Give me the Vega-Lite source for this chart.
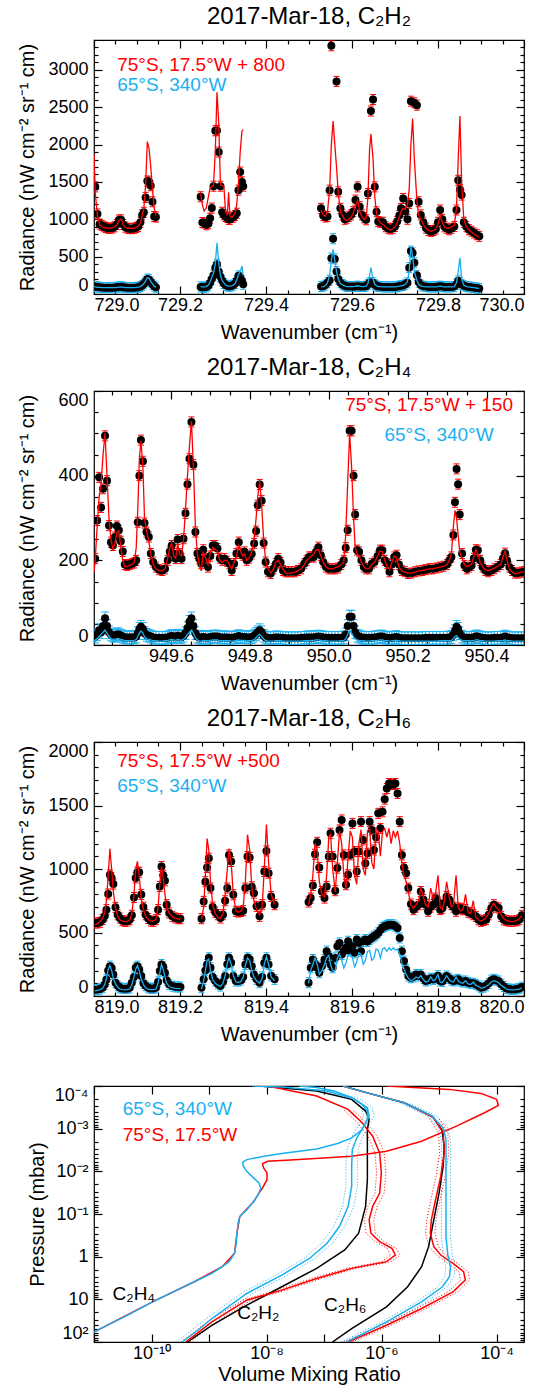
{
"$schema":"https://vega.github.io/schema/vega-lite/v6.json",
"background":"white",
"padding":{"left":16,"top":4,"right":5,"bottom":0},
"spacing":12,
"datasets":{
"p1":[
{"x":729.000,"g":1,"rm":1870,"bm":100},
{"x":729.003,"g":1,"r":1434,"rm":1350,"b":100,"bm":95},
{"x":729.008,"g":1,"r":1072,"rm":1050,"b":95,"bm":90},
{"x":729.013,"g":1,"r":935,"rm":930,"b":90,"bm":88},
{"x":729.018,"g":1,"r":918,"rm":900,"b":88,"bm":85},
{"x":729.023,"g":1,"r":900,"rm":890,"b":85,"bm":85},
{"x":729.028,"g":1,"r":890,"rm":885,"b":85,"bm":85},
{"x":729.033,"g":1,"r":880,"rm":885,"b":85,"bm":85},
{"x":729.038,"g":1,"r":880,"rm":880,"b":85,"bm":85},
{"x":729.043,"g":1,"r":885,"rm":890,"b":85,"bm":85},
{"x":729.048,"g":1,"r":900,"rm":900,"b":88,"bm":85},
{"x":729.053,"g":1,"r":930,"rm":920,"b":90,"bm":88},
{"x":729.058,"g":1,"r":990,"rm":980,"b":95,"bm":92},
{"x":729.063,"g":1,"r":993,"rm":1000,"b":98,"bm":95},
{"x":729.068,"g":1,"r":930,"rm":930,"b":92,"bm":90},
{"x":729.073,"g":1,"r":895,"rm":890,"b":88,"bm":85},
{"x":729.078,"g":1,"r":880,"rm":880,"b":85,"bm":85},
{"x":729.083,"g":1,"r":875,"rm":880,"b":85,"bm":85},
{"x":729.088,"g":1,"r":875,"rm":880,"b":85,"bm":85},
{"x":729.093,"g":1,"r":880,"rm":880,"b":85,"bm":85},
{"x":729.098,"g":1,"r":890,"rm":890,"b":88,"bm":88},
{"x":729.103,"g":1,"r":905,"rm":910,"b":90,"bm":92},
{"x":729.108,"g":1,"r":960,"rm":950,"b":100,"bm":100},
{"x":729.112,"g":1,"r":1059,"rm":1050,"b":115,"bm":115},
{"x":729.116,"g":1,"r":1094,"rm":1150,"b":135,"bm":140},
{"x":729.120,"g":1,"r":1293,"rm":1450,"b":165,"bm":175},
{"x":729.124,"g":1,"r":1513,"rm":2040,"b":200,"bm":220},
{"x":729.128,"g":1,"r":1500,"rm":1950,"b":190,"bm":210},
{"x":729.132,"g":1,"r":1450,"rm":1700,"b":160,"bm":170},
{"x":729.136,"g":1,"r":1235,"rm":1400,"b":130,"bm":135},
{"x":729.140,"g":1,"r":1037,"rm":1150,"b":105,"bm":105},
{"x":729.144,"g":1,"r":1030,"rm":1050,"b":90,"bm":92},
{"x":729.248,"g":2,"r":1302,"rm":1346,"b":95,"bm":100},
{"x":729.252,"g":2,"r":957,"rm":1200,"b":90,"bm":95},
{"x":729.256,"g":2,"r":950,"rm":1110,"b":90,"bm":95},
{"x":729.261,"g":2,"r":927,"rm":1150,"b":95,"bm":100},
{"x":729.266,"g":2,"r":940,"rm":1300,"b":110,"bm":120},
{"x":729.270,"g":2,"r":1015,"rm":1420,"b":150,"bm":160},
{"x":729.274,"g":2,"r":1150,"rm":1440,"b":200,"bm":220},
{"x":729.278,"g":2,"r":1443,"rm":1460,"b":250,"bm":280},
{"x":729.282,"g":2,"r":2184,"rm":1900,"b":353,"bm":400},
{"x":729.286,"g":2,"r":2190,"rm":2700,"b":397,"bm":684},
{"x":729.290,"g":2,"r":1900,"rm":2300,"b":300,"bm":420},
{"x":729.294,"g":2,"r":1443,"rm":1460,"b":230,"bm":250},
{"x":729.298,"g":2,"r":1094,"rm":1450,"b":180,"bm":180},
{"x":729.302,"g":2,"r":1059,"rm":1440,"b":140,"bm":150},
{"x":729.306,"g":2,"r":1037,"rm":1100,"b":120,"bm":120},
{"x":729.310,"g":2,"r":1024,"rm":1050,"b":110,"bm":110},
{"x":729.313,"g":2,"r":1000,"rm":1360,"b":105,"bm":105},
{"x":729.316,"g":2,"r":1000,"rm":1050,"b":105,"bm":105},
{"x":729.320,"g":2,"r":1024,"rm":1020,"b":110,"bm":110},
{"x":729.324,"g":2,"r":1030,"rm":1050,"b":120,"bm":120},
{"x":729.328,"g":2,"r":1050,"rm":1080,"b":140,"bm":140},
{"x":729.332,"g":2,"r":1081,"rm":1200,"b":180,"bm":190},
{"x":729.336,"g":2,"r":1390,"rm":1500,"b":243,"bm":260},
{"x":729.340,"g":2,"r":1632,"rm":1900,"b":220,"bm":300},
{"x":729.344,"g":2,"r":1500,"rm":2180,"b":180,"bm":375},
{"x":729.347,"g":2,"r":1443,"rm":2200,"b":130,"bm":250},
{"x":729.528,"g":3,"r":1147,"rm":1120,"b":100,"bm":95},
{"x":729.533,"g":3,"r":1050,"rm":1060,"b":105,"bm":100},
{"x":729.538,"g":3,"r":1030,"rm":1040,"b":120,"bm":110},
{"x":729.543,"g":3,"r":1037,"rm":1100,"b":150,"bm":150},
{"x":729.548,"g":3,"r":1390,"rm":1400,"b":185,"bm":250},
{"x":729.552,"g":3,"r":3322,"rm":2000,"b":480,"bm":450},
{"x":729.556,"g":3,"rm":2316,"b":740,"bm":596},
{"x":729.560,"g":3,"rm":2000,"b":470,"bm":450},
{"x":729.564,"g":3,"r":2846,"rm":1700,"b":300,"bm":300},
{"x":729.568,"g":3,"r":1368,"rm":1350,"b":200,"bm":200},
{"x":729.573,"g":3,"r":1147,"rm":1100,"b":150,"bm":140},
{"x":729.578,"g":3,"r":1060,"rm":1050,"b":125,"bm":120},
{"x":729.583,"g":3,"r":1000,"rm":1000,"b":110,"bm":110},
{"x":729.588,"g":3,"r":1015,"rm":980,"b":100,"bm":100},
{"x":729.593,"g":3,"r":1040,"rm":1000,"b":100,"bm":100},
{"x":729.598,"g":3,"r":1059,"rm":1030,"b":100,"bm":100},
{"x":729.603,"g":3,"r":1103,"rm":1080,"b":100,"bm":100},
{"x":729.608,"g":3,"r":1257,"rm":1180,"b":100,"bm":105},
{"x":729.613,"g":3,"r":1434,"rm":1250,"b":105,"bm":110},
{"x":729.618,"g":3,"r":1169,"rm":1100,"b":100,"bm":105},
{"x":729.623,"g":3,"r":1060,"rm":1040,"b":100,"bm":100},
{"x":729.628,"g":3,"r":1020,"rm":1000,"b":100,"bm":100},
{"x":729.633,"g":3,"r":993,"rm":1020,"b":105,"bm":105},
{"x":729.637,"g":3,"r":1346,"rm":1300,"b":130,"bm":140},
{"x":729.641,"g":3,"rm":1950,"b":150,"bm":250},
{"x":729.644,"g":3,"r":2449,"rm":2140,"b":154,"bm":353},
{"x":729.649,"g":3,"r":2603,"rm":1800,"b":150,"bm":200},
{"x":729.653,"g":3,"r":1434,"rm":1300,"b":125,"bm":130},
{"x":729.657,"g":3,"r":1100,"rm":1080,"b":110,"bm":110},
{"x":729.661,"g":3,"r":971,"rm":1000,"b":100,"bm":100},
{"x":729.666,"g":3,"r":960,"rm":950,"b":100,"bm":100},
{"x":729.672,"g":3,"r":960,"rm":930,"b":95,"bm":95},
{"x":729.678,"g":3,"r":900,"rm":900,"b":95,"bm":95},
{"x":729.684,"g":3,"r":880,"rm":870,"b":95,"bm":95},
{"x":729.689,"g":3,"r":870,"rm":860,"b":95,"bm":95},
{"x":729.695,"g":3,"r":880,"rm":870,"b":95,"bm":95},
{"x":729.700,"g":3,"r":904,"rm":900,"b":95,"bm":95},
{"x":729.705,"g":3,"r":971,"rm":950,"b":100,"bm":100},
{"x":729.710,"g":3,"r":1050,"rm":1030,"b":105,"bm":105},
{"x":729.714,"g":3,"r":1147,"rm":1100,"b":110,"bm":110},
{"x":729.719,"g":3,"r":1279,"rm":1150,"b":115,"bm":115},
{"x":729.724,"g":3,"r":1103,"rm":1130,"b":130,"bm":130},
{"x":729.729,"g":3,"r":1000,"rm":1200,"b":150,"bm":170},
{"x":729.733,"g":3,"r":1213,"rm":1400,"b":353,"bm":300},
{"x":729.737,"g":3,"r":2581,"rm":2000,"b":574,"bm":640},
{"x":729.741,"g":3,"rm":2347,"b":550,"bm":500},
{"x":729.745,"g":3,"r":2559,"rm":1800,"b":419,"bm":300},
{"x":729.751,"g":3,"r":2528,"rm":1250,"b":250,"bm":180},
{"x":729.755,"g":3,"r":1235,"rm":1050,"b":160,"bm":130},
{"x":729.760,"g":3,"r":1059,"rm":1000,"b":120,"bm":110},
{"x":729.766,"g":3,"r":960,"rm":930,"b":105,"bm":100},
{"x":729.772,"g":3,"r":882,"rm":880,"b":100,"bm":95},
{"x":729.778,"g":3,"r":850,"rm":850,"b":95,"bm":95},
{"x":729.784,"g":3,"r":838,"rm":840,"b":95,"bm":95},
{"x":729.790,"g":3,"r":850,"rm":850,"b":95,"bm":95},
{"x":729.795,"g":3,"r":870,"rm":870,"b":95,"bm":95},
{"x":729.800,"g":3,"r":960,"rm":930,"b":100,"bm":100},
{"x":729.805,"g":3,"r":1125,"rm":1050,"b":105,"bm":105},
{"x":729.810,"g":3,"r":1000,"rm":960,"b":100,"bm":100},
{"x":729.815,"g":3,"r":900,"rm":900,"b":95,"bm":95},
{"x":729.820,"g":3,"r":880,"rm":880,"b":95,"bm":95},
{"x":729.826,"g":3,"r":860,"rm":880,"b":95,"bm":95},
{"x":729.832,"g":3,"r":880,"rm":900,"b":95,"bm":95},
{"x":729.838,"g":3,"r":904,"rm":920,"b":100,"bm":100},
{"x":729.843,"g":3,"r":1125,"rm":1150,"b":130,"bm":150},
{"x":729.847,"g":3,"r":1522,"rm":1800,"b":176,"bm":300},
{"x":729.851,"g":3,"r":1400,"rm":2383,"b":150,"bm":485},
{"x":729.855,"g":3,"r":1324,"rm":1500,"b":130,"bm":200},
{"x":729.860,"g":3,"r":960,"rm":1000,"b":110,"bm":120},
{"x":729.866,"g":3,"r":900,"rm":900,"b":100,"bm":100},
{"x":729.872,"g":3,"r":860,"rm":860,"b":95,"bm":95},
{"x":729.878,"g":3,"r":840,"rm":830,"b":90,"bm":90},
{"x":729.884,"g":3,"r":816,"rm":800,"b":85,"bm":85},
{"x":729.890,"g":3,"r":794,"rm":780,"b":80,"bm":80},
{"x":729.896,"g":3,"r":772,"rm":760,"b":75,"bm":75}
],
"p2":[
{"x":949.405,"rm":172,"bm":10},
{"x":949.408,"r":204,"rm":200,"b":20,"bm":12},
{"x":949.413,"r":294,"rm":280,"b":25,"bm":15},
{"x":949.418,"r":396,"rm":350,"b":35,"bm":20},
{"x":949.423,"r":325,"rm":380,"b":30,"bm":25},
{"x":949.428,"r":369,"rm":450,"b":45,"bm":30},
{"x":949.433,"r":494,"rm":500,"b":63,"bm":35},
{"x":949.438,"r":388,"rm":400,"b":45,"bm":28},
{"x":949.443,"r":282,"rm":300,"b":30,"bm":20},
{"x":949.448,"r":243,"rm":250,"b":25,"bm":15},
{"x":949.453,"r":235,"rm":225,"b":22,"bm":13},
{"x":949.458,"r":255,"rm":240,"b":22,"bm":14},
{"x":949.463,"r":281,"rm":265,"b":25,"bm":15},
{"x":949.468,"r":271,"rm":270,"b":25,"bm":15},
{"x":949.473,"r":245,"rm":230,"b":22,"bm":13},
{"x":949.478,"r":221,"rm":200,"b":20,"bm":12},
{"x":949.483,"r":190,"rm":185,"b":18,"bm":10},
{"x":949.489,"r":188,"rm":185,"b":18,"bm":10},
{"x":949.495,"r":190,"rm":188,"b":18,"bm":10},
{"x":949.501,"r":192,"rm":190,"b":18,"bm":10},
{"x":949.507,"r":194,"rm":195,"b":18,"bm":11},
{"x":949.512,"r":200,"rm":230,"b":20,"bm":13},
{"x":949.516,"r":290,"rm":320,"b":28,"bm":20},
{"x":949.520,"r":400,"rm":440,"b":38,"bm":28},
{"x":949.524,"r":484,"rm":482,"b":43,"bm":33},
{"x":949.529,"r":434,"rm":420,"b":38,"bm":28},
{"x":949.533,"r":288,"rm":300,"b":28,"bm":20},
{"x":949.538,"r":267,"rm":270,"b":24,"bm":15},
{"x":949.544,"r":255,"rm":245,"b":22,"bm":13},
{"x":949.549,"r":216,"rm":215,"b":20,"bm":12},
{"x":949.555,"r":196,"rm":190,"b":18,"bm":10},
{"x":949.562,"r":184,"rm":180,"b":17,"bm":10},
{"x":949.570,"r":178,"rm":175,"b":17,"bm":9},
{"x":949.578,"r":176,"rm":175,"b":17,"bm":9},
{"x":949.585,"r":180,"rm":180,"b":17,"bm":10},
{"x":949.592,"r":200,"rm":205,"b":18,"bm":11},
{"x":949.597,"r":220,"rm":230,"b":20,"bm":12},
{"x":949.602,"r":235,"rm":240,"b":21,"bm":13},
{"x":949.607,"r":216,"rm":210,"b":20,"bm":12},
{"x":949.612,"r":204,"rm":205,"b":19,"bm":11},
{"x":949.617,"r":249,"rm":240,"b":22,"bm":13},
{"x":949.622,"r":216,"rm":215,"b":20,"bm":12},
{"x":949.627,"r":204,"rm":210,"b":19,"bm":11},
{"x":949.632,"r":251,"rm":250,"b":22,"bm":14},
{"x":949.637,"r":311,"rm":320,"b":28,"bm":18},
{"x":949.642,"r":380,"rm":400,"b":40,"bm":25},
{"x":949.647,"r":440,"rm":470,"b":55,"bm":30},
{"x":949.652,"r":527,"rm":529,"b":63,"bm":35},
{"x":949.657,"r":426,"rm":420,"b":45,"bm":28},
{"x":949.662,"r":267,"rm":280,"b":28,"bm":18},
{"x":949.667,"r":216,"rm":215,"b":20,"bm":12},
{"x":949.672,"r":204,"rm":190,"b":18,"bm":10},
{"x":949.677,"r":192,"rm":175,"b":17,"bm":9},
{"x":949.682,"r":225,"rm":220,"b":19,"bm":11},
{"x":949.688,"r":204,"rm":205,"b":18,"bm":10},
{"x":949.694,"r":184,"rm":190,"b":17,"bm":10},
{"x":949.700,"r":210,"rm":220,"b":19,"bm":11},
{"x":949.706,"r":235,"rm":230,"b":20,"bm":12},
{"x":949.712,"r":235,"rm":225,"b":20,"bm":12},
{"x":949.718,"r":228,"rm":222,"b":20,"bm":12},
{"x":949.724,"r":205,"rm":200,"b":18,"bm":10},
{"x":949.730,"r":200,"rm":195,"b":18,"bm":10},
{"x":949.736,"r":204,"rm":200,"b":18,"bm":10},
{"x":949.742,"r":198,"rm":200,"b":18,"bm":10},
{"x":949.748,"r":192,"rm":190,"b":17,"bm":10},
{"x":949.754,"r":176,"rm":180,"b":17,"bm":9},
{"x":949.760,"r":192,"rm":195,"b":18,"bm":10},
{"x":949.766,"r":216,"rm":210,"b":19,"bm":11},
{"x":949.772,"r":243,"rm":235,"b":21,"bm":12},
{"x":949.777,"r":216,"rm":220,"b":19,"bm":11},
{"x":949.782,"r":212,"rm":210,"b":19,"bm":11},
{"x":949.787,"r":220,"rm":215,"b":19,"bm":11},
{"x":949.792,"r":200,"rm":200,"b":18,"bm":10},
{"x":949.798,"r":205,"rm":205,"b":18,"bm":10},
{"x":949.805,"r":215,"rm":220,"b":19,"bm":11},
{"x":949.811,"r":240,"rm":250,"b":22,"bm":13},
{"x":949.816,"r":269,"rm":300,"b":26,"bm":17},
{"x":949.820,"r":330,"rm":350,"b":30,"bm":22},
{"x":949.825,"r":379,"rm":388,"b":35,"bm":25},
{"x":949.830,"r":341,"rm":330,"b":30,"bm":20},
{"x":949.835,"r":241,"rm":250,"b":22,"bm":14},
{"x":949.840,"r":196,"rm":200,"b":18,"bm":11},
{"x":949.846,"r":173,"rm":180,"b":17,"bm":9},
{"x":949.853,"r":169,"rm":170,"b":16,"bm":9},
{"x":949.860,"r":180,"rm":180,"b":17,"bm":9},
{"x":949.866,"r":192,"rm":195,"b":18,"bm":10},
{"x":949.872,"r":204,"rm":200,"b":18,"bm":10},
{"x":949.878,"r":195,"rm":190,"b":17,"bm":10},
{"x":949.884,"r":176,"rm":180,"b":17,"bm":9},
{"x":949.891,"r":173,"rm":170,"b":16,"bm":9},
{"x":949.898,"r":173,"rm":170,"b":16,"bm":9},
{"x":949.906,"r":173,"rm":170,"b":16,"bm":9},
{"x":949.914,"r":173,"rm":172,"b":16,"bm":9},
{"x":949.922,"r":176,"rm":175,"b":16,"bm":9},
{"x":949.930,"r":180,"rm":180,"b":17,"bm":9},
{"x":949.938,"r":192,"rm":190,"b":17,"bm":10},
{"x":949.944,"r":200,"rm":200,"b":18,"bm":10},
{"x":949.950,"r":208,"rm":205,"b":18,"bm":10},
{"x":949.956,"r":208,"rm":210,"b":18,"bm":11},
{"x":949.962,"r":208,"rm":215,"b":18,"bm":11},
{"x":949.968,"r":220,"rm":225,"b":19,"bm":12},
{"x":949.974,"r":231,"rm":225,"b":20,"bm":12},
{"x":949.980,"r":212,"rm":210,"b":19,"bm":11},
{"x":949.986,"r":196,"rm":195,"b":18,"bm":10},
{"x":949.993,"r":184,"rm":185,"b":17,"bm":10},
{"x":950.000,"r":180,"rm":180,"b":17,"bm":9},
{"x":950.008,"r":180,"rm":180,"b":17,"bm":9},
{"x":950.016,"r":180,"rm":182,"b":17,"bm":9},
{"x":950.024,"r":182,"rm":185,"b":17,"bm":9},
{"x":950.032,"r":190,"rm":190,"b":17,"bm":10},
{"x":950.038,"r":200,"rm":195,"b":18,"bm":10},
{"x":950.043,"r":230,"rm":260,"b":25,"bm":15},
{"x":950.048,"r":271,"rm":380,"b":45,"bm":25},
{"x":950.053,"r":506,"rm":500,"b":67,"bm":35},
{"x":950.058,"r":506,"rm":420,"b":67,"bm":28},
{"x":950.063,"r":400,"rm":300,"b":45,"bm":20},
{"x":950.067,"r":308,"rm":230,"b":30,"bm":15},
{"x":950.072,"r":224,"rm":215,"b":22,"bm":12},
{"x":950.077,"r":220,"rm":210,"b":20,"bm":11},
{"x":950.083,"r":200,"rm":195,"b":18,"bm":10},
{"x":950.089,"r":184,"rm":185,"b":17,"bm":10},
{"x":950.095,"r":180,"rm":180,"b":17,"bm":9},
{"x":950.102,"r":180,"rm":180,"b":17,"bm":9},
{"x":950.109,"r":192,"rm":190,"b":17,"bm":10},
{"x":950.116,"r":196,"rm":195,"b":18,"bm":10},
{"x":950.124,"r":210,"rm":210,"b":19,"bm":11},
{"x":950.130,"r":224,"rm":222,"b":20,"bm":12},
{"x":950.136,"r":224,"rm":220,"b":20,"bm":12},
{"x":950.142,"r":200,"rm":200,"b":18,"bm":10},
{"x":950.148,"r":192,"rm":185,"b":17,"bm":10},
{"x":950.154,"r":173,"rm":178,"b":16,"bm":9},
{"x":950.160,"r":190,"rm":195,"b":17,"bm":10},
{"x":950.166,"r":208,"rm":210,"b":18,"bm":11},
{"x":950.172,"r":212,"rm":205,"b":19,"bm":11},
{"x":950.178,"r":190,"rm":185,"b":17,"bm":10},
{"x":950.185,"r":176,"rm":175,"b":16,"bm":9},
{"x":950.193,"r":173,"rm":172,"b":16,"bm":9},
{"x":950.201,"r":169,"rm":170,"b":16,"bm":9},
{"x":950.210,"r":170,"rm":170,"b":16,"bm":9},
{"x":950.219,"r":173,"rm":172,"b":16,"bm":9},
{"x":950.228,"r":175,"rm":175,"b":16,"bm":9},
{"x":950.237,"r":176,"rm":176,"b":16,"bm":9},
{"x":950.246,"r":178,"rm":178,"b":17,"bm":9},
{"x":950.255,"r":180,"rm":180,"b":17,"bm":9},
{"x":950.264,"r":180,"rm":180,"b":17,"bm":9},
{"x":950.273,"r":182,"rm":182,"b":17,"bm":9},
{"x":950.282,"r":184,"rm":184,"b":17,"bm":10},
{"x":950.291,"r":186,"rm":186,"b":17,"bm":10},
{"x":950.300,"r":190,"rm":190,"b":17,"bm":10},
{"x":950.306,"r":200,"rm":200,"b":18,"bm":10},
{"x":950.311,"r":208,"rm":215,"b":19,"bm":11},
{"x":950.316,"r":260,"rm":280,"b":25,"bm":15},
{"x":950.320,"r":337,"rm":318,"b":33,"bm":20},
{"x":950.324,"r":416,"rm":300,"b":43,"bm":22},
{"x":950.328,"r":380,"rm":260,"b":38,"bm":18},
{"x":950.332,"r":308,"rm":220,"b":28,"bm":14},
{"x":950.338,"r":216,"rm":205,"b":20,"bm":11},
{"x":950.344,"r":188,"rm":190,"b":17,"bm":10},
{"x":950.350,"r":180,"rm":185,"b":17,"bm":10},
{"x":950.356,"r":184,"rm":188,"b":17,"bm":10},
{"x":950.362,"r":188,"rm":190,"b":17,"bm":10},
{"x":950.368,"r":205,"rm":210,"b":18,"bm":11},
{"x":950.373,"r":225,"rm":225,"b":20,"bm":12},
{"x":950.378,"r":224,"rm":215,"b":20,"bm":12},
{"x":950.384,"r":200,"rm":195,"b":18,"bm":10},
{"x":950.390,"r":184,"rm":185,"b":17,"bm":10},
{"x":950.397,"r":176,"rm":178,"b":16,"bm":9},
{"x":950.404,"r":173,"rm":175,"b":16,"bm":9},
{"x":950.412,"r":176,"rm":178,"b":16,"bm":9},
{"x":950.420,"r":180,"rm":182,"b":17,"bm":9},
{"x":950.428,"r":185,"rm":186,"b":17,"bm":10},
{"x":950.436,"r":190,"rm":190,"b":17,"bm":10},
{"x":950.442,"r":205,"rm":210,"b":18,"bm":11},
{"x":950.447,"r":217,"rm":222,"b":20,"bm":12},
{"x":950.452,"r":200,"rm":200,"b":18,"bm":10},
{"x":950.458,"r":184,"rm":180,"b":17,"bm":10},
{"x":950.465,"r":176,"rm":172,"b":16,"bm":9},
{"x":950.472,"r":170,"rm":168,"b":16,"bm":9},
{"x":950.480,"r":170,"rm":170,"b":16,"bm":9},
{"x":950.488,"r":172,"rm":172,"b":16,"bm":9},
{"x":950.495,"r":173,"rm":172,"b":16,"bm":9}
],
"p3":[
{"x":819.002,"g":1,"r":575,"rm":560,"b":50,"bm":40},
{"x":819.008,"g":1,"r":575,"rm":570,"b":52,"bm":45},
{"x":819.014,"g":1,"r":580,"rm":585,"b":55,"bm":50},
{"x":819.020,"g":1,"r":601,"rm":610,"b":65,"bm":60},
{"x":819.025,"g":1,"r":630,"rm":660,"b":90,"bm":90},
{"x":819.029,"g":1,"r":680,"rm":750,"b":130,"bm":140},
{"x":819.033,"g":1,"r":803,"rm":950,"b":200,"bm":210},
{"x":819.037,"g":1,"r":954,"rm":1160,"b":235,"bm":240},
{"x":819.041,"g":1,"r":930,"rm":1000,"b":220,"bm":200},
{"x":819.045,"g":1,"r":881,"rm":820,"b":170,"bm":140},
{"x":819.050,"g":1,"r":698,"rm":690,"b":105,"bm":95},
{"x":819.055,"g":1,"r":640,"rm":630,"b":80,"bm":70},
{"x":819.060,"g":1,"r":614,"rm":600,"b":65,"bm":55},
{"x":819.066,"g":1,"r":593,"rm":590,"b":60,"bm":50},
{"x":819.072,"g":1,"r":588,"rm":585,"b":58,"bm":48},
{"x":819.078,"g":1,"r":590,"rm":588,"b":60,"bm":50},
{"x":819.083,"g":1,"r":601,"rm":600,"b":65,"bm":55},
{"x":819.088,"g":1,"r":635,"rm":650,"b":105,"bm":90},
{"x":819.093,"g":1,"r":776,"rm":800,"b":150,"bm":150},
{"x":819.097,"g":1,"r":930,"rm":1000,"b":222,"bm":210},
{"x":819.101,"g":1,"r":975,"rm":1060,"b":235,"bm":240},
{"x":819.105,"g":1,"r":975,"rm":950,"b":210,"bm":200},
{"x":819.110,"g":1,"r":800,"rm":760,"b":157,"bm":130},
{"x":819.115,"g":1,"r":700,"rm":680,"b":100,"bm":90},
{"x":819.120,"g":1,"r":640,"rm":630,"b":80,"bm":65},
{"x":819.126,"g":1,"r":610,"rm":605,"b":65,"bm":55},
{"x":819.132,"g":1,"r":590,"rm":590,"b":60,"bm":50},
{"x":819.138,"g":1,"r":588,"rm":590,"b":60,"bm":50},
{"x":819.144,"g":1,"r":601,"rm":605,"b":65,"bm":55},
{"x":819.149,"g":1,"r":680,"rm":700,"b":110,"bm":100},
{"x":819.153,"g":1,"r":863,"rm":880,"b":196,"bm":180},
{"x":819.157,"g":1,"r":1020,"rm":1020,"b":248,"bm":250},
{"x":819.161,"g":1,"r":950,"rm":930,"b":230,"bm":210},
{"x":819.165,"g":1,"r":907,"rm":800,"b":183,"bm":150},
{"x":819.169,"g":1,"r":719,"rm":700,"b":125,"bm":100},
{"x":819.175,"g":1,"r":654,"rm":650,"b":90,"bm":75},
{"x":819.182,"g":1,"r":627,"rm":625,"b":78,"bm":65},
{"x":819.189,"g":1,"r":615,"rm":612,"b":72,"bm":60},
{"x":819.196,"g":1,"r":609,"rm":605,"b":71,"bm":58},
{"x":819.201,"g":1,"r":609,"rm":605,"b":71,"bm":58},
{"x":819.250,"g":2,"r":609,"rm":605,"b":65,"bm":55},
{"x":819.255,"g":2,"r":745,"rm":700,"b":131,"bm":120},
{"x":819.259,"g":2,"r":900,"rm":950,"b":200,"bm":200},
{"x":819.263,"g":2,"r":1012,"rm":1240,"b":248,"bm":280},
{"x":819.267,"g":2,"r":1085,"rm":1150,"b":301,"bm":290},
{"x":819.271,"g":2,"r":850,"rm":900,"b":222,"bm":200},
{"x":819.276,"g":2,"r":700,"rm":720,"b":150,"bm":130},
{"x":819.282,"g":2,"r":660,"rm":650,"b":118,"bm":100},
{"x":819.288,"g":2,"r":640,"rm":620,"b":95,"bm":85},
{"x":819.294,"g":2,"r":614,"rm":610,"b":78,"bm":75},
{"x":819.300,"g":2,"r":640,"rm":650,"b":110,"bm":100},
{"x":819.305,"g":2,"r":750,"rm":800,"b":157,"bm":160},
{"x":819.310,"g":2,"r":850,"rm":1000,"b":250,"bm":260},
{"x":819.314,"g":2,"r":1111,"rm":1160,"b":301,"bm":300},
{"x":819.319,"g":2,"r":1059,"rm":1050,"b":261,"bm":250},
{"x":819.324,"g":2,"r":797,"rm":800,"b":157,"bm":160},
{"x":819.330,"g":2,"r":667,"rm":670,"b":118,"bm":110},
{"x":819.336,"g":2,"r":661,"rm":660,"b":118,"bm":105},
{"x":819.342,"g":2,"r":665,"rm":670,"b":125,"bm":115},
{"x":819.347,"g":2,"r":672,"rm":700,"b":150,"bm":150},
{"x":819.352,"g":2,"r":850,"rm":900,"b":248,"bm":240},
{"x":819.357,"g":2,"r":1098,"rm":1270,"b":301,"bm":300},
{"x":819.362,"g":2,"r":1090,"rm":1150,"b":290,"bm":280},
{"x":819.367,"g":2,"r":860,"rm":850,"b":235,"bm":200},
{"x":819.372,"g":2,"r":810,"rm":750,"b":170,"bm":150},
{"x":819.378,"g":2,"r":706,"rm":680,"b":131,"bm":120},
{"x":819.385,"g":2,"r":627,"rm":640,"b":105,"bm":100},
{"x":819.391,"g":2,"r":719,"rm":700,"b":150,"bm":140},
{"x":819.396,"g":2,"r":980,"rm":1000,"b":260,"bm":250},
{"x":819.401,"g":2,"r":1142,"rm":1350,"b":301,"bm":310},
{"x":819.406,"g":2,"r":967,"rm":1050,"b":248,"bm":250},
{"x":819.412,"g":2,"r":784,"rm":800,"b":160,"bm":150},
{"x":819.420,"g":2,"r":719,"rm":720,"b":131,"bm":120},
{"x":819.499,"g":3,"r":740,"rm":720,"b":105,"bm":100},
{"x":819.504,"g":3,"r":771,"rm":800,"b":222,"bm":200},
{"x":819.509,"g":3,"r":870,"rm":950,"b":288,"bm":250},
{"x":819.514,"g":3,"r":1116,"rm":1200,"b":254,"bm":300},
{"x":819.519,"g":3,"r":1210,"rm":1150,"b":222,"bm":250},
{"x":819.524,"g":3,"r":1012,"rm":900,"b":183,"bm":170},
{"x":819.530,"g":3,"r":823,"rm":800,"b":235,"bm":200},
{"x":819.536,"g":3,"r":771,"rm":780,"b":288,"bm":250},
{"x":819.541,"g":3,"r":863,"rm":950,"b":353,"bm":300},
{"x":819.546,"g":3,"r":1098,"rm":1250,"b":314,"bm":320},
{"x":819.550,"g":3,"r":1281,"rm":1280,"b":248,"bm":250},
{"x":819.555,"g":3,"r":1098,"rm":1000,"b":222,"bm":200},
{"x":819.561,"g":3,"r":829,"rm":820,"b":300,"bm":200},
{"x":819.566,"g":3,"r":1007,"rm":1050,"b":392,"bm":300},
{"x":819.571,"g":3,"r":1307,"rm":1300,"b":418,"bm":330},
{"x":819.576,"g":3,"r":1386,"rm":1200,"b":327,"bm":280},
{"x":819.581,"g":3,"r":1111,"rm":950,"b":353,"bm":220},
{"x":819.586,"g":3,"r":876,"rm":850,"b":379,"bm":260},
{"x":819.591,"g":3,"r":954,"rm":1100,"b":431,"bm":320},
{"x":819.596,"g":3,"r":1111,"rm":1300,"b":353,"bm":330},
{"x":819.601,"g":3,"r":1359,"rm":1250,"b":392,"bm":300},
{"x":819.606,"g":3,"r":1137,"rm":950,"b":340,"bm":230},
{"x":819.611,"g":3,"r":980,"rm":880,"b":444,"bm":270},
{"x":819.616,"g":3,"r":1137,"rm":1200,"b":418,"bm":340},
{"x":819.621,"g":3,"r":1373,"rm":1310,"b":353,"bm":330},
{"x":819.626,"g":3,"r":1229,"rm":1000,"b":431,"bm":250},
{"x":819.631,"g":3,"r":1046,"rm":950,"b":444,"bm":280},
{"x":819.636,"g":3,"r":1124,"rm":1300,"b":430,"bm":350},
{"x":819.641,"g":3,"r":1373,"rm":1320,"b":444,"bm":360},
{"x":819.646,"g":3,"r":1307,"rm":1050,"b":457,"bm":280},
{"x":819.651,"g":3,"r":1150,"rm":1000,"b":470,"bm":300},
{"x":819.656,"g":3,"r":1250,"rm":1320,"b":480,"bm":370},
{"x":819.661,"g":3,"r":1438,"rm":1300,"b":497,"bm":360},
{"x":819.666,"g":3,"r":1320,"rm":1100,"b":520,"bm":300},
{"x":819.671,"g":3,"r":1450,"rm":1300,"b":540,"bm":370},
{"x":819.676,"g":3,"r":1550,"rm":1320,"b":549,"bm":380},
{"x":819.681,"g":3,"r":1634,"rm":1250,"b":556,"bm":350},
{"x":819.686,"g":3,"r":1673,"rm":1320,"b":562,"bm":380},
{"x":819.691,"g":3,"r":1665,"rm":1200,"b":562,"bm":360},
{"x":819.696,"g":3,"r":1665,"rm":1300,"b":560,"bm":380},
{"x":819.701,"g":3,"r":1673,"rm":1250,"b":549,"bm":360},
{"x":819.706,"g":3,"r":1595,"rm":1300,"b":536,"bm":370},
{"x":819.711,"g":3,"r":1373,"rm":1200,"b":457,"bm":330},
{"x":819.716,"g":3,"r":1111,"rm":1050,"b":353,"bm":260},
{"x":819.721,"g":3,"r":1012,"rm":950,"b":275,"bm":210},
{"x":819.726,"g":3,"r":967,"rm":900,"b":209,"bm":170},
{"x":819.731,"g":3,"r":850,"rm":820,"b":157,"bm":140},
{"x":819.737,"g":3,"r":724,"rm":720,"b":144,"bm":120},
{"x":819.743,"g":3,"r":680,"rm":690,"b":150,"bm":130},
{"x":819.749,"g":3,"r":700,"rm":720,"b":170,"bm":150},
{"x":819.755,"g":3,"r":719,"rm":750,"b":157,"bm":140},
{"x":819.760,"g":3,"r":823,"rm":850,"b":170,"bm":160},
{"x":819.766,"g":3,"r":760,"rm":780,"b":140,"bm":130},
{"x":819.771,"g":3,"r":719,"rm":720,"b":118,"bm":110},
{"x":819.777,"g":3,"r":667,"rm":700,"b":125,"bm":115},
{"x":819.783,"g":3,"r":700,"rm":850,"b":140,"bm":150},
{"x":819.789,"g":3,"r":719,"rm":760,"b":131,"bm":120},
{"x":819.794,"g":3,"r":771,"rm":800,"b":140,"bm":130},
{"x":819.800,"g":3,"r":740,"rm":950,"b":160,"bm":170},
{"x":819.805,"g":3,"r":680,"rm":700,"b":118,"bm":110},
{"x":819.810,"g":3,"r":690,"rm":680,"b":115,"bm":105},
{"x":819.815,"g":3,"r":732,"rm":750,"b":140,"bm":130},
{"x":819.820,"g":3,"r":784,"rm":900,"b":157,"bm":160},
{"x":819.826,"g":3,"r":760,"rm":780,"b":140,"bm":130},
{"x":819.831,"g":3,"r":719,"rm":700,"b":125,"bm":115},
{"x":819.836,"g":3,"r":700,"rm":720,"b":118,"bm":110},
{"x":819.842,"g":3,"r":667,"rm":950,"b":125,"bm":150},
{"x":819.847,"g":3,"r":693,"rm":700,"b":131,"bm":120},
{"x":819.852,"g":3,"r":690,"rm":670,"b":118,"bm":105},
{"x":819.858,"g":3,"r":680,"rm":680,"b":110,"bm":100},
{"x":819.864,"g":3,"r":680,"rm":800,"b":118,"bm":120},
{"x":819.870,"g":3,"r":660,"rm":660,"b":105,"bm":95},
{"x":819.876,"g":3,"r":654,"rm":650,"b":100,"bm":90},
{"x":819.882,"g":3,"r":640,"rm":750,"b":100,"bm":110},
{"x":819.888,"g":3,"r":627,"rm":620,"b":92,"bm":85},
{"x":819.894,"g":3,"r":600,"rm":600,"b":80,"bm":75},
{"x":819.900,"g":3,"r":588,"rm":590,"b":65,"bm":60},
{"x":819.906,"g":3,"r":595,"rm":600,"b":70,"bm":65},
{"x":819.912,"g":3,"r":601,"rm":620,"b":80,"bm":75},
{"x":819.918,"g":3,"r":640,"rm":650,"b":100,"bm":90},
{"x":819.924,"g":3,"r":693,"rm":700,"b":125,"bm":110},
{"x":819.930,"g":3,"r":719,"rm":730,"b":131,"bm":120},
{"x":819.935,"g":3,"r":700,"rm":700,"b":125,"bm":115},
{"x":819.941,"g":3,"r":693,"rm":680,"b":118,"bm":105},
{"x":819.947,"g":3,"r":627,"rm":640,"b":92,"bm":85},
{"x":819.953,"g":3,"r":600,"rm":610,"b":75,"bm":70},
{"x":819.959,"g":3,"r":593,"rm":595,"b":60,"bm":55},
{"x":819.965,"g":3,"r":590,"rm":590,"b":55,"bm":50},
{"x":819.971,"g":3,"r":588,"rm":585,"b":52,"bm":48},
{"x":819.977,"g":3,"r":590,"rm":588,"b":52,"bm":48},
{"x":819.983,"g":3,"r":593,"rm":595,"b":55,"bm":50},
{"x":819.989,"g":3,"r":600,"rm":610,"b":60,"bm":55},
{"x":819.995,"g":3,"r":635,"rm":630,"b":70,"bm":65}
],
"prof":[
{"id":"e4b","c":"b","d":0,"v":1.0e-11,"p":58.2},
{"id":"e4b","c":"b","d":0,"v":1.68e-11,"p":40.6},
{"id":"e4b","c":"b","d":0,"v":3.38e-11,"p":25.8},
{"id":"e4b","c":"b","d":0,"v":6.8e-11,"p":15.6},
{"id":"e4b","c":"b","d":0,"v":1.04e-10,"p":11.5},
{"id":"e4b","c":"b","d":0,"v":2.76e-10,"p":6.08},
{"id":"e4b","c":"b","d":0,"v":5.56e-10,"p":3.87},
{"id":"e4b","c":"b","d":0,"v":1.12e-9,"p":2.47},
{"id":"e4b","c":"b","d":0,"v":1.7e-9,"p":1.72},
{"id":"e4b","c":"b","d":0,"v":2.25e-9,"p":1.31},
{"id":"e4b","c":"b","d":0,"v":2.78e-9,"p":0.835},
{"id":"e4b","c":"b","d":0,"v":2.98e-9,"p":0.485},
{"id":"e4b","c":"b","d":0,"v":3.06e-9,"p":0.282},
{"id":"e4b","c":"b","d":0,"v":3.2e-9,"p":0.164},
{"id":"e4b","c":"b","d":0,"v":3.43e-9,"p":0.115},
{"id":"e4b","c":"b","d":0,"v":4.54e-9,"p":0.0798},
{"id":"e4b","c":"b","d":0,"v":6.0e-9,"p":0.0508},
{"id":"e4b","c":"b","d":0,"v":7.4e-9,"p":0.0324},
{"id":"e4b","c":"b","d":0,"v":7.94e-9,"p":0.0247},
{"id":"e4b","c":"b","d":0,"v":7.4e-9,"p":0.0188},
{"id":"e4b","c":"b","d":0,"v":6.0e-9,"p":0.0144},
{"id":"e4b","c":"b","d":0,"v":4.54e-9,"p":0.0100},
{"id":"e4b","c":"b","d":0,"v":3.95e-9,"p":0.00762},
{"id":"e4b","c":"b","d":0,"v":3.84e-9,"p":0.00614},
{"id":"e4b","c":"b","d":0,"v":4.54e-9,"p":0.00531},
{"id":"e4b","c":"b","d":0,"v":9.1e-9,"p":0.00444},
{"id":"e4b","c":"b","d":0,"v":1.84e-8,"p":0.00384},
{"id":"e4b","c":"b","d":0,"v":7.45e-8,"p":0.00298},
{"id":"e4b","c":"b","d":0,"v":1.73e-7,"p":0.00223},
{"id":"e4b","c":"b","d":0,"v":3.02e-7,"p":0.00164},
{"id":"e4b","c":"b","d":0,"v":4.6e-7,"p":0.00105},
{"id":"e4b","c":"b","d":0,"v":5.67e-7,"p":0.000608},
{"id":"e4b","c":"b","d":0,"v":5.67e-7,"p":0.000387},
{"id":"e4b","c":"b","d":0,"v":4.6e-7,"p":0.00027},
{"id":"e4b","c":"b","d":0,"v":3.02e-7,"p":0.000188},
{"id":"e4b","c":"b","d":0,"v":1.5e-7,"p":0.000131},
{"id":"e4b","c":"b","d":0,"v":7.45e-8,"p":0.000109},
{"id":"e4b","c":"b","d":0,"v":3.7e-8,"p":0.0001},
{"id":"e4r","c":"r","d":0,"v":1.0e-11,"p":58.2},
{"id":"e4r","c":"r","d":0,"v":1.04e-10,"p":11.5},
{"id":"e4r","c":"r","d":0,"v":5.56e-10,"p":3.87},
{"id":"e4r","c":"r","d":0,"v":1.7e-9,"p":1.72},
{"id":"e4r","c":"r","d":0,"v":2.78e-9,"p":0.835},
{"id":"e4r","c":"r","d":0,"v":3.06e-9,"p":0.282},
{"id":"e4r","c":"r","d":0,"v":3.43e-9,"p":0.115},
{"id":"e4r","c":"r","d":0,"v":6.0e-9,"p":0.0508},
{"id":"e4r","c":"r","d":0,"v":7.4e-9,"p":0.0324},
{"id":"e4r","c":"r","d":0,"v":8.5e-9,"p":0.0247},
{"id":"e4r","c":"r","d":0,"v":1.02e-8,"p":0.0157},
{"id":"e4r","c":"r","d":0,"v":1.02e-8,"p":0.0109},
{"id":"e4r","c":"r","d":0,"v":8.9e-9,"p":0.00835},
{"id":"e4r","c":"r","d":0,"v":8.5e-9,"p":0.0066},
{"id":"e4r","c":"r","d":0,"v":1.05e-8,"p":0.00582},
{"id":"e4r","c":"r","d":0,"v":3.7e-8,"p":0.00531},
{"id":"e4r","c":"r","d":0,"v":3.02e-7,"p":0.00444},
{"id":"e4r","c":"r","d":0,"v":1.22e-6,"p":0.00338},
{"id":"e4r","c":"r","d":0,"v":4.97e-6,"p":0.00197},
{"id":"e4r","c":"r","d":0,"v":2.01e-5,"p":0.000873},
{"id":"e4r","c":"r","d":0,"v":6.17e-5,"p":0.000424},
{"id":"e4r","c":"r","d":0,"v":1.08e-4,"p":0.000285},
{"id":"e4r","c":"r","d":0,"v":1.0e-4,"p":0.000206},
{"id":"e4r","c":"r","d":0,"v":5.37e-5,"p":0.000149},
{"id":"e4r","c":"r","d":0,"v":1.52e-5,"p":0.00012},
{"id":"e4r","c":"r","d":0,"v":1.22e-6,"p":0.0001},
{"id":"a2b","c":"b","d":0,"v":3.4e-10,"p":100},
{"id":"a2b","c":"b","d":0,"v":6.4e-10,"p":53},
{"id":"a2b","c":"b","d":0,"v":1.12e-9,"p":28.2},
{"id":"a2b","c":"b","d":0,"v":4.54e-9,"p":7.3},
{"id":"a2b","c":"b","d":0,"v":1.84e-8,"p":2.7},
{"id":"a2b","c":"b","d":0,"v":5.64e-8,"p":1.09},
{"id":"a2b","c":"b","d":0,"v":1.13e-7,"p":0.485},
{"id":"a2b","c":"b","d":0,"v":1.85e-7,"p":0.197},
{"id":"a2b","c":"b","d":0,"v":2.62e-7,"p":0.0667},
{"id":"a2b","c":"b","d":0,"v":3.02e-7,"p":0.0225},
{"id":"a2b","c":"b","d":0,"v":3.02e-7,"p":0.00762},
{"id":"a2b","c":"b","d":0,"v":3.1e-7,"p":0.00309},
{"id":"a2b","c":"b","d":0,"v":3.73e-7,"p":0.00164},
{"id":"a2b","c":"b","d":0,"v":4.93e-7,"p":0.000873},
{"id":"a2b","c":"b","d":0,"v":6.08e-7,"p":0.000508},
{"id":"a2b","c":"b","d":0,"v":5.67e-7,"p":0.000324},
{"id":"a2b","c":"b","d":0,"v":3.48e-7,"p":0.000206},
{"id":"a2b","c":"b","d":0,"v":1.13e-7,"p":0.000131},
{"id":"a2b","c":"b","d":0,"v":1.84e-8,"p":0.000106},
{"id":"a2b","c":"b","d":0,"v":6.0e-9,"p":0.0001},
{"id":"a2k","c":"k","d":0,"v":4.2e-10,"p":100},
{"id":"a2k","c":"k","d":0,"v":1.12e-9,"p":40.6},
{"id":"a2k","c":"k","d":0,"v":4.54e-9,"p":13.7},
{"id":"a2k","c":"k","d":0,"v":1.84e-8,"p":5.08},
{"id":"a2k","c":"k","d":0,"v":7.45e-8,"p":1.88},
{"id":"a2k","c":"k","d":0,"v":2.29e-7,"p":0.697},
{"id":"a2k","c":"k","d":0,"v":4.0e-7,"p":0.282},
{"id":"a2k","c":"k","d":0,"v":5.28e-7,"p":0.0667},
{"id":"a2k","c":"k","d":0,"v":5.67e-7,"p":0.0157},
{"id":"a2k","c":"k","d":0,"v":5.67e-7,"p":0.0037},
{"id":"a2k","c":"k","d":0,"v":5.67e-7,"p":0.00105},
{"id":"a2k","c":"k","d":0,"v":6.08e-7,"p":0.000608},
{"id":"a2k","c":"k","d":0,"v":5.28e-7,"p":0.000387},
{"id":"a2k","c":"k","d":0,"v":3.02e-7,"p":0.000206},
{"id":"a2k","c":"k","d":0,"v":7.45e-8,"p":0.000131},
{"id":"a2k","c":"k","d":0,"v":7.94e-9,"p":0.0001},
{"id":"a2r","c":"r","d":0,"v":3.92e-10,"p":100},
{"id":"a2r","c":"r","d":0,"v":1.12e-9,"p":33.9},
{"id":"a2r","c":"r","d":0,"v":4.54e-9,"p":10.5},
{"id":"a2r","c":"r","d":0,"v":1.84e-8,"p":6.08},
{"id":"a2r","c":"r","d":0,"v":7.45e-8,"p":3.24},
{"id":"a2r","c":"r","d":0,"v":3.02e-7,"p":1.88},
{"id":"a2r","c":"r","d":0,"v":1.22e-6,"p":1.31},
{"id":"a2r","c":"r","d":0,"v":1.74e-6,"p":0.914},
{"id":"a2r","c":"r","d":0,"v":1.51e-6,"p":0.637},
{"id":"a2r","c":"r","d":0,"v":9.27e-7,"p":0.444},
{"id":"a2r","c":"r","d":0,"v":6.53e-7,"p":0.282},
{"id":"a2r","c":"r","d":0,"v":6.08e-7,"p":0.137},
{"id":"a2r","c":"r","d":0,"v":7.0e-7,"p":0.0667},
{"id":"a2r","c":"r","d":0,"v":9.27e-7,"p":0.0324},
{"id":"a2r","c":"r","d":0,"v":9.93e-7,"p":0.0109},
{"id":"a2r","c":"r","d":0,"v":9.27e-7,"p":0.0037},
{"id":"a2r","c":"r","d":0,"v":7.0e-7,"p":0.0015},
{"id":"a2r","c":"r","d":0,"v":4.6e-7,"p":0.000729},
{"id":"a2r","c":"r","d":0,"v":2.62e-7,"p":0.000354},
{"id":"a2r","c":"r","d":0,"v":7.45e-8,"p":0.000172},
{"id":"a2r","c":"r","d":0,"v":1.05e-8,"p":0.0001},
{"id":"e6k","c":"k","d":0,"v":1.4e-7,"p":100},
{"id":"e6k","c":"k","d":0,"v":3.02e-7,"p":48.5},
{"id":"e6k","c":"k","d":0,"v":1.22e-6,"p":15},
{"id":"e6k","c":"k","d":0,"v":2.84e-6,"p":5.08},
{"id":"e6k","c":"k","d":0,"v":4.97e-6,"p":1.72},
{"id":"e6k","c":"k","d":0,"v":6.58e-6,"p":0.582},
{"id":"e6k","c":"k","d":0,"v":8.1e-6,"p":0.137},
{"id":"e6k","c":"k","d":0,"v":1.0e-5,"p":0.0324},
{"id":"e6k","c":"k","d":0,"v":1.18e-5,"p":0.00762},
{"id":"e6k","c":"k","d":0,"v":1.23e-5,"p":0.00258},
{"id":"e6k","c":"k","d":0,"v":1.12e-5,"p":0.00105},
{"id":"e6k","c":"k","d":0,"v":7.55e-6,"p":0.000508},
{"id":"e6k","c":"k","d":0,"v":2.47e-6,"p":0.000247},
{"id":"e6k","c":"k","d":0,"v":6.08e-7,"p":0.000149},
{"id":"e6k","c":"k","d":0,"v":2.13e-7,"p":0.0001},
{"id":"e6b","c":"b","d":0,"v":2.45e-7,"p":100},
{"id":"e6b","c":"b","d":0,"v":1.22e-6,"p":33.9},
{"id":"e6b","c":"b","d":0,"v":4.97e-6,"p":11.5},
{"id":"e6b","c":"b","d":0,"v":1.15e-5,"p":5.08},
{"id":"e6b","c":"b","d":0,"v":1.52e-5,"p":2.96},
{"id":"e6b","c":"b","d":0,"v":1.58e-5,"p":1.72},
{"id":"e6b","c":"b","d":0,"v":1.42e-5,"p":0.914},
{"id":"e6b","c":"b","d":0,"v":1.32e-5,"p":0.338},
{"id":"e6b","c":"b","d":0,"v":1.32e-5,"p":0.0556},
{"id":"e6b","c":"b","d":0,"v":1.32e-5,"p":0.00914},
{"id":"e6b","c":"b","d":0,"v":1.32e-5,"p":0.0018},
{"id":"e6b","c":"b","d":0,"v":1.18e-5,"p":0.000955},
{"id":"e6b","c":"b","d":0,"v":7.55e-6,"p":0.000508},
{"id":"e6b","c":"b","d":0,"v":2.47e-6,"p":0.000247},
{"id":"e6b","c":"b","d":0,"v":6.08e-7,"p":0.000149},
{"id":"e6b","c":"b","d":0,"v":2.13e-7,"p":0.0001},
{"id":"e6r","c":"r","d":0,"v":2.62e-7,"p":100},
{"id":"e6r","c":"r","d":0,"v":1.22e-6,"p":40.6},
{"id":"e6r","c":"r","d":0,"v":4.97e-6,"p":16.4},
{"id":"e6r","c":"r","d":0,"v":1.75e-5,"p":6.67},
{"id":"e6r","c":"r","d":0,"v":2.86e-5,"p":3.54},
{"id":"e6r","c":"r","d":0,"v":2.67e-5,"p":2.25},
{"id":"e6r","c":"r","d":0,"v":1.75e-5,"p":1.44},
{"id":"e6r","c":"r","d":0,"v":1.07e-5,"p":0.914},
{"id":"e6r","c":"r","d":0,"v":8.1e-6,"p":0.582},
{"id":"e6r","c":"r","d":0,"v":7.05e-6,"p":0.282},
{"id":"e6r","c":"r","d":0,"v":7.35e-6,"p":0.137},
{"id":"e6r","c":"r","d":0,"v":8.7e-6,"p":0.0464},
{"id":"e6r","c":"r","d":0,"v":1.07e-5,"p":0.0131},
{"id":"e6r","c":"r","d":0,"v":1.23e-5,"p":0.0037},
{"id":"e6r","c":"r","d":0,"v":1.18e-5,"p":0.00125},
{"id":"e6r","c":"r","d":0,"v":8.1e-6,"p":0.000556},
{"id":"e6r","c":"r","d":0,"v":2.47e-6,"p":0.000247},
{"id":"e6r","c":"r","d":0,"v":6.08e-7,"p":0.000149},
{"id":"e6r","c":"r","d":0,"v":2.13e-7,"p":0.0001},
{"id":"a2bh","c":"b","d":1,"v":4.2e-10,"p":100},
{"id":"a2bh","c":"b","d":1,"v":1.4e-9,"p":28.2},
{"id":"a2bh","c":"b","d":1,"v":5.7e-9,"p":7.3},
{"id":"a2bh","c":"b","d":1,"v":2.3e-8,"p":2.7},
{"id":"a2bh","c":"b","d":1,"v":7.0e-8,"p":1.09},
{"id":"a2bh","c":"b","d":1,"v":1.4e-7,"p":0.485},
{"id":"a2bh","c":"b","d":1,"v":2.3e-7,"p":0.197},
{"id":"a2bh","c":"b","d":1,"v":3.3e-7,"p":0.0667},
{"id":"a2bh","c":"b","d":1,"v":3.8e-7,"p":0.0225},
{"id":"a2bh","c":"b","d":1,"v":3.8e-7,"p":0.0076},
{"id":"a2bh","c":"b","d":1,"v":3.9e-7,"p":0.0031},
{"id":"a2bh","c":"b","d":1,"v":4.6e-7,"p":0.00164},
{"id":"a2bh","c":"b","d":1,"v":6.1e-7,"p":0.00087},
{"id":"a2bh","c":"b","d":1,"v":7.4e-7,"p":0.0005},
{"id":"a2bh","c":"b","d":1,"v":6.9e-7,"p":0.00032},
{"id":"a2bh","c":"b","d":1,"v":4.2e-7,"p":0.0002},
{"id":"a2bh","c":"b","d":1,"v":1.3e-7,"p":0.00013},
{"id":"a2bh","c":"b","d":1,"v":7.0e-9,"p":0.0001},
{"id":"a2bl","c":"b","d":1,"v":2.7e-10,"p":100},
{"id":"a2bl","c":"b","d":1,"v":9.0e-10,"p":28.2},
{"id":"a2bl","c":"b","d":1,"v":3.6e-9,"p":7.3},
{"id":"a2bl","c":"b","d":1,"v":1.47e-8,"p":2.7},
{"id":"a2bl","c":"b","d":1,"v":4.5e-8,"p":1.09},
{"id":"a2bl","c":"b","d":1,"v":9.0e-8,"p":0.485},
{"id":"a2bl","c":"b","d":1,"v":1.48e-7,"p":0.197},
{"id":"a2bl","c":"b","d":1,"v":2.1e-7,"p":0.0667},
{"id":"a2bl","c":"b","d":1,"v":2.4e-7,"p":0.0225},
{"id":"a2bl","c":"b","d":1,"v":2.4e-7,"p":0.0076},
{"id":"a2bl","c":"b","d":1,"v":2.5e-7,"p":0.0031},
{"id":"a2bl","c":"b","d":1,"v":3.0e-7,"p":0.00164},
{"id":"a2bl","c":"b","d":1,"v":3.9e-7,"p":0.00087},
{"id":"a2bl","c":"b","d":1,"v":4.9e-7,"p":0.0005},
{"id":"a2bl","c":"b","d":1,"v":4.5e-7,"p":0.00032},
{"id":"a2bl","c":"b","d":1,"v":2.8e-7,"p":0.0002},
{"id":"a2bl","c":"b","d":1,"v":9.0e-8,"p":0.00013},
{"id":"a2bl","c":"b","d":1,"v":5.0e-9,"p":0.0001},
{"id":"a2rh","c":"r","d":1,"v":4.7e-10,"p":100},
{"id":"a2rh","c":"r","d":1,"v":1.35e-9,"p":33.9},
{"id":"a2rh","c":"r","d":1,"v":5.4e-9,"p":10.5},
{"id":"a2rh","c":"r","d":1,"v":2.2e-8,"p":6.08},
{"id":"a2rh","c":"r","d":1,"v":9.0e-8,"p":3.24},
{"id":"a2rh","c":"r","d":1,"v":3.6e-7,"p":1.88},
{"id":"a2rh","c":"r","d":1,"v":1.47e-6,"p":1.31},
{"id":"a2rh","c":"r","d":1,"v":2.1e-6,"p":0.914},
{"id":"a2rh","c":"r","d":1,"v":1.8e-6,"p":0.637},
{"id":"a2rh","c":"r","d":1,"v":1.11e-6,"p":0.444},
{"id":"a2rh","c":"r","d":1,"v":7.8e-7,"p":0.282},
{"id":"a2rh","c":"r","d":1,"v":7.3e-7,"p":0.137},
{"id":"a2rh","c":"r","d":1,"v":8.4e-7,"p":0.0667},
{"id":"a2rh","c":"r","d":1,"v":1.11e-6,"p":0.0324},
{"id":"a2rh","c":"r","d":1,"v":1.19e-6,"p":0.0109},
{"id":"a2rh","c":"r","d":1,"v":1.11e-6,"p":0.0037},
{"id":"a2rh","c":"r","d":1,"v":8.4e-7,"p":0.0015},
{"id":"a2rh","c":"r","d":1,"v":5.5e-7,"p":0.000729},
{"id":"a2rh","c":"r","d":1,"v":3.1e-7,"p":0.000354},
{"id":"a2rl","c":"r","d":1,"v":3.25e-10,"p":100},
{"id":"a2rl","c":"r","d":1,"v":9.3e-10,"p":33.9},
{"id":"a2rl","c":"r","d":1,"v":3.8e-9,"p":10.5},
{"id":"a2rl","c":"r","d":1,"v":1.53e-8,"p":6.08},
{"id":"a2rl","c":"r","d":1,"v":6.2e-8,"p":3.24},
{"id":"a2rl","c":"r","d":1,"v":2.5e-7,"p":1.88},
{"id":"a2rl","c":"r","d":1,"v":1.01e-6,"p":1.31},
{"id":"a2rl","c":"r","d":1,"v":1.44e-6,"p":0.914},
{"id":"a2rl","c":"r","d":1,"v":1.25e-6,"p":0.637},
{"id":"a2rl","c":"r","d":1,"v":7.7e-7,"p":0.444},
{"id":"a2rl","c":"r","d":1,"v":5.4e-7,"p":0.282},
{"id":"a2rl","c":"r","d":1,"v":5.0e-7,"p":0.137},
{"id":"a2rl","c":"r","d":1,"v":5.8e-7,"p":0.0667},
{"id":"a2rl","c":"r","d":1,"v":7.7e-7,"p":0.0324},
{"id":"a2rl","c":"r","d":1,"v":8.2e-7,"p":0.0109},
{"id":"a2rl","c":"r","d":1,"v":7.7e-7,"p":0.0037},
{"id":"a2rl","c":"r","d":1,"v":5.8e-7,"p":0.0015},
{"id":"a2rl","c":"r","d":1,"v":3.8e-7,"p":0.000729},
{"id":"a2rl","c":"r","d":1,"v":2.2e-7,"p":0.000354},
{"id":"e6bh","c":"b","d":1,"v":2.9e-7,"p":100},
{"id":"e6bh","c":"b","d":1,"v":1.46e-6,"p":33.9},
{"id":"e6bh","c":"b","d":1,"v":6.0e-6,"p":11.5},
{"id":"e6bh","c":"b","d":1,"v":1.38e-5,"p":5.08},
{"id":"e6bh","c":"b","d":1,"v":1.82e-5,"p":2.96},
{"id":"e6bh","c":"b","d":1,"v":1.9e-5,"p":1.72},
{"id":"e6bh","c":"b","d":1,"v":1.7e-5,"p":0.914},
{"id":"e6bh","c":"b","d":1,"v":1.58e-5,"p":0.338},
{"id":"e6bh","c":"b","d":1,"v":1.58e-5,"p":0.0556},
{"id":"e6bh","c":"b","d":1,"v":1.58e-5,"p":0.00914},
{"id":"e6bh","c":"b","d":1,"v":1.58e-5,"p":0.0018},
{"id":"e6bh","c":"b","d":1,"v":1.4e-5,"p":0.000955},
{"id":"e6bh","c":"b","d":1,"v":9.0e-6,"p":0.000508},
{"id":"e6bh","c":"b","d":1,"v":2.9e-6,"p":0.000247},
{"id":"e6bl","c":"b","d":1,"v":2.0e-7,"p":100},
{"id":"e6bl","c":"b","d":1,"v":1.0e-6,"p":33.9},
{"id":"e6bl","c":"b","d":1,"v":4.1e-6,"p":11.5},
{"id":"e6bl","c":"b","d":1,"v":9.5e-6,"p":5.08},
{"id":"e6bl","c":"b","d":1,"v":1.26e-5,"p":2.96},
{"id":"e6bl","c":"b","d":1,"v":1.31e-5,"p":1.72},
{"id":"e6bl","c":"b","d":1,"v":1.18e-5,"p":0.914},
{"id":"e6bl","c":"b","d":1,"v":1.1e-5,"p":0.338},
{"id":"e6bl","c":"b","d":1,"v":1.1e-5,"p":0.0556},
{"id":"e6bl","c":"b","d":1,"v":1.1e-5,"p":0.00914},
{"id":"e6bl","c":"b","d":1,"v":1.1e-5,"p":0.0018},
{"id":"e6bl","c":"b","d":1,"v":9.8e-6,"p":0.000955},
{"id":"e6bl","c":"b","d":1,"v":6.3e-6,"p":0.000508},
{"id":"e6bl","c":"b","d":1,"v":2.05e-6,"p":0.000247},
{"id":"e6rh","c":"r","d":1,"v":3.1e-7,"p":100},
{"id":"e6rh","c":"r","d":1,"v":1.46e-6,"p":40.6},
{"id":"e6rh","c":"r","d":1,"v":6.0e-6,"p":16.4},
{"id":"e6rh","c":"r","d":1,"v":2.1e-5,"p":6.67},
{"id":"e6rh","c":"r","d":1,"v":3.4e-5,"p":3.54},
{"id":"e6rh","c":"r","d":1,"v":3.2e-5,"p":2.25},
{"id":"e6rh","c":"r","d":1,"v":2.1e-5,"p":1.44},
{"id":"e6rh","c":"r","d":1,"v":1.28e-5,"p":0.914},
{"id":"e6rh","c":"r","d":1,"v":9.7e-6,"p":0.582},
{"id":"e6rh","c":"r","d":1,"v":8.5e-6,"p":0.282},
{"id":"e6rh","c":"r","d":1,"v":8.8e-6,"p":0.137},
{"id":"e6rh","c":"r","d":1,"v":1.04e-5,"p":0.0464},
{"id":"e6rh","c":"r","d":1,"v":1.28e-5,"p":0.0131},
{"id":"e6rh","c":"r","d":1,"v":1.48e-5,"p":0.0037},
{"id":"e6rh","c":"r","d":1,"v":1.42e-5,"p":0.00125},
{"id":"e6rh","c":"r","d":1,"v":9.7e-6,"p":0.000556},
{"id":"e6rl","c":"r","d":1,"v":2.2e-7,"p":100},
{"id":"e6rl","c":"r","d":1,"v":1.0e-6,"p":40.6},
{"id":"e6rl","c":"r","d":1,"v":4.1e-6,"p":16.4},
{"id":"e6rl","c":"r","d":1,"v":1.45e-5,"p":6.67},
{"id":"e6rl","c":"r","d":1,"v":2.37e-5,"p":3.54},
{"id":"e6rl","c":"r","d":1,"v":2.2e-5,"p":2.25},
{"id":"e6rl","c":"r","d":1,"v":1.45e-5,"p":1.44},
{"id":"e6rl","c":"r","d":1,"v":8.9e-6,"p":0.914},
{"id":"e6rl","c":"r","d":1,"v":6.7e-6,"p":0.582},
{"id":"e6rl","c":"r","d":1,"v":5.85e-6,"p":0.282},
{"id":"e6rl","c":"r","d":1,"v":6.1e-6,"p":0.137},
{"id":"e6rl","c":"r","d":1,"v":7.2e-6,"p":0.0464},
{"id":"e6rl","c":"r","d":1,"v":8.9e-6,"p":0.0131},
{"id":"e6rl","c":"r","d":1,"v":1.02e-5,"p":0.0037},
{"id":"e6rl","c":"r","d":1,"v":9.8e-6,"p":0.00125},
{"id":"e6rl","c":"r","d":1,"v":6.7e-6,"p":0.000556}
]
},
"vconcat":[
{
"width":430,"height":254,
"title":{"text":"2017-Mar-18, C₂H₂"},
"data":{"name":"p1"},
"resolve":{"axis":{"x":"independent","y":"independent"}},
"layer":[
{"mark":{"type":"point","shape":"M-0.6,-1H0.6M0,-1V1M-0.6,1H0.6","filled":false,"stroke":"#ff0000","strokeWidth":1,"size":100,"opacity":1,"clip":true},
 "encoding":{
  "x":{"field":"x","type":"quantitative","scale":{"domain":[729,730],"nice":false,"zero":false},"axis":{"orient":"bottom","values":[729,729.2,729.4,729.6,729.8,730],"format":".1f","title":"Wavenumber (cm⁻¹)"}},
  "y":{"field":"r","type":"quantitative","scale":{"domain":[0,3400],"nice":false},"axis":{"orient":"left","values":[0,500,1000,1500,2000,2500,3000],"format":"d","labelFlush":true,"title":"Radiance (nW cm⁻² sr⁻¹ cm)","titleX":-67,"titleY":127,"titleAngle":-90,"titleBaseline":"middle","titleAlign":"center"}}}},
{"mark":{"type":"point","shape":"M-0.6,-1H0.6M0,-1V1M-0.6,1H0.6","filled":false,"stroke":"#1aaff0","strokeWidth":1,"size":100,"opacity":1,"clip":true},
 "encoding":{
  "x":{"field":"x","type":"quantitative","scale":{"domain":[729,730],"nice":false,"zero":false},"axis":{"orient":"top","values":[729,729.2,729.4,729.6,729.8,730],"labels":false,"title":null}},
  "y":{"field":"b","type":"quantitative","scale":{"domain":[0,3400],"nice":false},"axis":{"orient":"right","values":[0,500,1000,1500,2000,2500,3000],"labels":false,"title":null}}}},
{"mark":{"type":"circle","color":"black","size":64,"opacity":1,"clip":true},
 "encoding":{"x":{"field":"x","type":"quantitative","axis":{"orient":"bottom","values":[729.05,729.1,729.15,729.25,729.3,729.35,729.45,729.5,729.55,729.65,729.7,729.75,729.85,729.9,729.95],"labels":false,"title":null,"tickSize":-4}},"y":{"field":"r","type":"quantitative","axis":{"orient":"left","values":[100,200,300,400,600,700,800,900,1100,1200,1300,1400,1600,1700,1800,1900,2100,2200,2300,2400,2600,2700,2800,2900,3100,3200,3300],"labels":false,"title":null,"tickSize":-4}}}},
{"mark":{"type":"circle","color":"black","size":64,"opacity":1,"clip":true},
 "encoding":{"x":{"field":"x","type":"quantitative","axis":{"orient":"top","values":[729.05,729.1,729.15,729.25,729.3,729.35,729.45,729.5,729.55,729.65,729.7,729.75,729.85,729.9,729.95],"labels":false,"title":null,"tickSize":-4}},"y":{"field":"b","type":"quantitative","axis":{"orient":"right","values":[100,200,300,400,600,700,800,900,1100,1200,1300,1400,1600,1700,1800,1900,2100,2200,2300,2400,2600,2700,2800,2900,3100,3200,3300],"labels":false,"title":null,"tickSize":-4}}}},
{"mark":{"type":"line","color":"#ff0000","strokeWidth":1.3,"clip":true},
 "encoding":{"x":{"field":"x","type":"quantitative","axis":null},"y":{"field":"rm","type":"quantitative","axis":null},"detail":{"field":"g"}}},
{"mark":{"type":"line","color":"#1aaff0","strokeWidth":1.3,"clip":true},
 "encoding":{"x":{"field":"x","type":"quantitative","axis":null},"y":{"field":"bm","type":"quantitative","axis":null},"detail":{"field":"g"}}},
{"data":{"values":[{"x":729.054,"y":3066,"t":"75°S, 17.5°W + 800","c":"r"},{"x":729.054,"y":2802,"t":"65°S, 340°W","c":"b"}]},
 "mark":{"type":"text","align":"left","baseline":"middle","fontSize":19,"font":"Liberation Sans"},
 "encoding":{"x":{"field":"x","type":"quantitative","axis":null},"y":{"field":"y","type":"quantitative","axis":null},"text":{"field":"t"},"color":{"field":"c","type":"nominal","scale":{"domain":["r","b","k"],"range":["#ff0000","#1aaff0","#000000"]},"legend":null}}}
]
},
{
"width":430,"height":254,
"title":{"text":"2017-Mar-18, C₂H₄"},
"data":{"name":"p2"},
"resolve":{"axis":{"x":"independent","y":"independent"}},
"layer":[
{"mark":{"type":"point","shape":"M-0.6,-1H0.6M0,-1V1M-0.6,1H0.6","filled":false,"stroke":"#ff0000","strokeWidth":1,"size":100,"opacity":1,"clip":true},
 "encoding":{
  "x":{"field":"x","type":"quantitative","scale":{"domain":[949.405,950.495],"nice":false,"zero":false},"axis":{"orient":"bottom","values":[949.6,949.8,950.0,950.2,950.4],"format":".1f","title":"Wavenumber (cm⁻¹)"}},
  "y":{"field":"r","type":"quantitative","scale":{"domain":[0,600],"nice":false},"axis":{"orient":"left","values":[0,200,400,600],"format":"d","labelFlush":true,"title":"Radiance (nW cm⁻² sr⁻¹ cm)","titleX":-67,"titleY":127,"titleAngle":-90,"titleBaseline":"middle","titleAlign":"center"}}}},
{"mark":{"type":"point","shape":"M-0.6,-1H0.6M0,-1V1M-0.6,1H0.6","filled":false,"stroke":"#1aaff0","strokeWidth":1,"size":160,"opacity":1,"clip":true},
 "encoding":{
  "x":{"field":"x","type":"quantitative","scale":{"domain":[949.405,950.495],"nice":false,"zero":false},"axis":{"orient":"top","values":[949.6,949.8,950.0,950.2,950.4],"labels":false,"title":null}},
  "y":{"field":"b","type":"quantitative","scale":{"domain":[0,600],"nice":false},"axis":{"orient":"right","values":[0,200,400,600],"labels":false,"title":null}}}},
{"mark":{"type":"circle","color":"black","size":64,"opacity":1,"clip":true},
 "encoding":{"x":{"field":"x","type":"quantitative","axis":{"orient":"bottom","values":[949.45,949.5,949.55,949.65,949.7,949.75,949.85,949.9,949.95,950.05,950.1,950.15,950.25,950.3,950.35,950.45],"labels":false,"title":null,"tickSize":-4}},"y":{"field":"r","type":"quantitative","axis":{"orient":"left","values":[50,100,150,250,300,350,450,500,550],"labels":false,"title":null,"tickSize":-4}}}},
{"mark":{"type":"circle","color":"black","size":64,"opacity":1,"clip":true},
 "encoding":{"x":{"field":"x","type":"quantitative","axis":{"orient":"top","values":[949.45,949.5,949.55,949.65,949.7,949.75,949.85,949.9,949.95,950.05,950.1,950.15,950.25,950.3,950.35,950.45],"labels":false,"title":null,"tickSize":-4}},"y":{"field":"b","type":"quantitative","axis":{"orient":"right","values":[50,100,150,250,300,350,450,500,550],"labels":false,"title":null,"tickSize":-4}}}},
{"mark":{"type":"line","color":"#ff0000","strokeWidth":1.3,"clip":true},
 "encoding":{"x":{"field":"x","type":"quantitative","axis":null},"y":{"field":"rm","type":"quantitative","axis":null}}},
{"mark":{"type":"line","color":"#1aaff0","strokeWidth":1.3,"clip":true},
 "encoding":{"x":{"field":"x","type":"quantitative","axis":null},"y":{"field":"bm","type":"quantitative","axis":null}}},
{"data":{"values":[{"x":950.467,"y":566,"t":"75°S, 17.5°W + 150","c":"r"},{"x":950.418,"y":496,"t":"65°S, 340°W","c":"b"}]},
 "mark":{"type":"text","align":"right","baseline":"middle","fontSize":19,"font":"Liberation Sans"},
 "encoding":{"x":{"field":"x","type":"quantitative","axis":null},"y":{"field":"y","type":"quantitative","axis":null},"text":{"field":"t"},"color":{"field":"c","type":"nominal","scale":{"domain":["r","b","k"],"range":["#ff0000","#1aaff0","#000000"]},"legend":null}}}
]
},
{
"width":430,"height":254,
"title":{"text":"2017-Mar-18, C₂H₆"},
"data":{"name":"p3"},
"resolve":{"axis":{"x":"independent","y":"independent"}},
"layer":[
{"mark":{"type":"point","shape":"M-0.6,-1H0.6M0,-1V1M-0.6,1H0.6","filled":false,"stroke":"#ff0000","strokeWidth":1,"size":100,"opacity":1,"clip":true},
 "encoding":{
  "x":{"field":"x","type":"quantitative","scale":{"domain":[819,820],"nice":false,"zero":false},"axis":{"orient":"bottom","values":[819,819.2,819.4,819.6,819.8,820],"format":".1f","title":"Wavenumber (cm⁻¹)"}},
  "y":{"field":"r","type":"quantitative","scale":{"domain":[0,2000],"nice":false},"axis":{"orient":"left","values":[0,500,1000,1500,2000],"format":"d","labelFlush":true,"title":"Radiance (nW cm⁻² sr⁻¹ cm)","titleX":-67,"titleY":127,"titleAngle":-90,"titleBaseline":"middle","titleAlign":"center"}}}},
{"mark":{"type":"point","shape":"M-0.6,-1H0.6M0,-1V1M-0.6,1H0.6","filled":false,"stroke":"#1aaff0","strokeWidth":1,"size":100,"opacity":1,"clip":true},
 "encoding":{
  "x":{"field":"x","type":"quantitative","scale":{"domain":[819,820],"nice":false,"zero":false},"axis":{"orient":"top","values":[819,819.2,819.4,819.6,819.8,820],"labels":false,"title":null}},
  "y":{"field":"b","type":"quantitative","scale":{"domain":[0,2000],"nice":false},"axis":{"orient":"right","values":[0,500,1000,1500,2000],"labels":false,"title":null}}}},
{"mark":{"type":"circle","color":"black","size":64,"opacity":1,"clip":true},
 "encoding":{"x":{"field":"x","type":"quantitative","axis":{"orient":"bottom","values":[819.05,819.1,819.15,819.25,819.3,819.35,819.45,819.5,819.55,819.65,819.7,819.75,819.85,819.9,819.95],"labels":false,"title":null,"tickSize":-4}},"y":{"field":"r","type":"quantitative","axis":{"orient":"left","values":[100,200,300,400,600,700,800,900,1100,1200,1300,1400,1600,1700,1800,1900],"labels":false,"title":null,"tickSize":-4}}}},
{"mark":{"type":"circle","color":"black","size":64,"opacity":1,"clip":true},
 "encoding":{"x":{"field":"x","type":"quantitative","axis":{"orient":"top","values":[819.05,819.1,819.15,819.25,819.3,819.35,819.45,819.5,819.55,819.65,819.7,819.75,819.85,819.9,819.95],"labels":false,"title":null,"tickSize":-4}},"y":{"field":"b","type":"quantitative","axis":{"orient":"right","values":[100,200,300,400,600,700,800,900,1100,1200,1300,1400,1600,1700,1800,1900],"labels":false,"title":null,"tickSize":-4}}}},
{"mark":{"type":"line","color":"#ff0000","strokeWidth":1.3,"clip":true},
 "encoding":{"x":{"field":"x","type":"quantitative","axis":null},"y":{"field":"rm","type":"quantitative","axis":null},"detail":{"field":"g"}}},
{"mark":{"type":"line","color":"#1aaff0","strokeWidth":1.3,"clip":true},
 "encoding":{"x":{"field":"x","type":"quantitative","axis":null},"y":{"field":"bm","type":"quantitative","axis":null},"detail":{"field":"g"}}},
{"data":{"values":[{"x":819.054,"y":1848,"t":"75°S, 17.5°W +500","c":"r"},{"x":819.054,"y":1652,"t":"65°S, 340°W","c":"b"}]},
 "mark":{"type":"text","align":"left","baseline":"middle","fontSize":19,"font":"Liberation Sans"},
 "encoding":{"x":{"field":"x","type":"quantitative","axis":null},"y":{"field":"y","type":"quantitative","axis":null},"text":{"field":"t"},"color":{"field":"c","type":"nominal","scale":{"domain":["r","b","k"],"range":["#ff0000","#1aaff0","#000000"]},"legend":null}}}
]
},
{
"width":430,"height":256,
"title":{"text":" ","offset":3},
"data":{"name":"prof"},
"resolve":{"axis":{"x":"independent","y":"independent"}},
"layer":[
{"transform":[{"filter":"datum.d==1 && datum.c=='b'"}],
 "mark":{"type":"line","color":"#1aaff0","strokeWidth":1,"strokeDash":[1,2],"clip":true},
 "encoding":{
  "x":{"field":"v","type":"quantitative","scale":{"type":"log","domain":[1e-11,3e-4],"nice":false},"axis":{"orient":"bottom","values":[1e-11,1e-10,1e-9,1e-8,1e-7,1e-6,1e-5,1e-4],"labelExpr":"['','10⁻¹⁰','','10⁻⁸','','10⁻⁶','','10⁻⁴'][round(log(datum.value)/LN10)+11]","title":"Volume Mixing Ratio","titlePadding":2}},
  "y":{"field":"p","type":"quantitative","scale":{"type":"log","domain":[1e-4,100],"nice":false,"reverse":true},"axis":{"orient":"left","values":[0.0001,0.001,0.01,0.1,1,10,100],"labelExpr":"['10⁻⁴','10⁻³','10⁻²','10⁻¹','1','10','10²'][round(log(datum.value)/LN10)+4]","labelFlush":true,"title":"Pressure (mbar)","titleX":-57,"titleY":128,"titleAngle":-90,"titleBaseline":"middle","titleAlign":"center"}},
  "detail":{"field":"id"},"order":{"field":"p","sort":"descending"}}},
{"transform":[{"filter":"datum.d==1 && datum.c=='r'"}],
 "mark":{"type":"line","color":"#ff0000","strokeWidth":1,"strokeDash":[1,2],"clip":true},
 "encoding":{
  "x":{"field":"v","type":"quantitative","axis":{"orient":"top","values":[1e-11,1e-10,1e-9,1e-8,1e-7,1e-6,1e-5,1e-4],"labels":false,"title":null}},
  "y":{"field":"p","type":"quantitative","axis":{"orient":"right","values":[0.0001,0.001,0.01,0.1,1,10,100],"labels":false,"title":null}},
  "detail":{"field":"id"},"order":{"field":"p","sort":"descending"}}},
{"transform":[{"filter":"datum.d==0 && datum.c=='k'"}],
 "mark":{"type":"line","color":"black","strokeWidth":1.5,"clip":true},
 "encoding":{
  "x":{"field":"v","type":"quantitative","axis":null},
  "y":{"field":"p","type":"quantitative","axis":{"orient":"left","values":[0.0002,0.0003,0.0004,0.0005,0.0006,0.0007,0.0008,0.0009,0.002,0.003,0.004,0.005,0.006,0.007,0.008,0.009,0.02,0.03,0.04,0.05,0.06,0.07,0.08,0.09,0.2,0.3,0.4,0.5,0.6,0.7,0.8,0.9,2,3,4,5,6,7,8,9,20,30,40,50,60,70,80,90],"labels":false,"title":null,"tickSize":-4}},
  "detail":{"field":"id"},"order":{"field":"p","sort":"descending"}}},
{"transform":[{"filter":"datum.d==0 && datum.c=='r'"}],
 "mark":{"type":"line","color":"#ff0000","strokeWidth":1.5,"clip":true},
 "encoding":{
  "x":{"field":"v","type":"quantitative","axis":null},
  "y":{"field":"p","type":"quantitative","axis":{"orient":"right","values":[0.0002,0.0003,0.0004,0.0005,0.0006,0.0007,0.0008,0.0009,0.002,0.003,0.004,0.005,0.006,0.007,0.008,0.009,0.02,0.03,0.04,0.05,0.06,0.07,0.08,0.09,0.2,0.3,0.4,0.5,0.6,0.7,0.8,0.9,2,3,4,5,6,7,8,9,20,30,40,50,60,70,80,90],"labels":false,"title":null,"tickSize":-4}},
  "detail":{"field":"id"},"order":{"field":"p","sort":"descending"}}},
{"transform":[{"filter":"datum.d==0 && datum.c=='b'"}],
 "mark":{"type":"line","color":"#1aaff0","strokeWidth":1.5,"clip":true},
 "encoding":{
  "x":{"field":"v","type":"quantitative","axis":null},
  "y":{"field":"p","type":"quantitative","axis":null},
  "detail":{"field":"id"},"order":{"field":"p","sort":"descending"}}},
{"data":{"values":[{"v":2.1e-11,"p":7.3,"t":"C₂H₄","c":"k"},{"v":3.1e-9,"p":21,"t":"C₂H₂","c":"k"},{"v":1.0e-7,"p":13.8,"t":"C₂H₆","c":"k"},{"v":3.16e-11,"p":0.00035,"t":"65°S, 340°W","c":"b"},{"v":3.16e-11,"p":0.00138,"t":"75°S, 17.5°W","c":"r"}]},
 "mark":{"type":"text","align":"left","baseline":"middle","fontSize":19,"font":"Liberation Sans"},
 "encoding":{"x":{"field":"v","type":"quantitative","axis":null},"y":{"field":"p","type":"quantitative","axis":null},"text":{"field":"t"},"color":{"field":"c","type":"nominal","scale":{"domain":["r","b","k"],"range":["#ff0000","#1aaff0","#000000"]},"legend":null}}}
]
}
],
"config":{
 "font":"Liberation Sans",
 "view":{"stroke":"black","strokeWidth":1.2},
 "axis":{"grid":false,"domain":false,"labelFont":"Liberation Sans","titleFont":"Liberation Sans","labelFontSize":18,"titleFontSize":20,"titleFontWeight":"normal","labelColor":"black","titleColor":"black","tickColor":"black","tickWidth":1.2,"tickSize":-8,"labelPadding":12,"titlePadding":8,"labelOverlap":false,"labelBound":false},
 "axisX":{"labelPadding":10},
 "axisY":{"labelPadding":14},
 "title":{"font":"Liberation Sans","fontSize":24,"fontWeight":"normal","color":"black","anchor":"middle","offset":10,"baseline":"bottom"}
}
}
